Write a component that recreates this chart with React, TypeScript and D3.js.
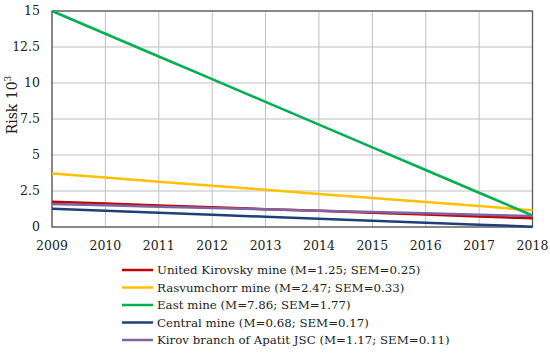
import React from "react";
import * as d3 from "d3";

const years = [2009, 2010, 2011, 2012, 2013, 2014, 2015, 2016, 2017, 2018];
const yTicks = [0, 2.5, 5, 7.5, 10, 12.5, 15];
const yTickLabels = ["0", "2.5", "5", "7.5", "10", "12.5", "15"];

const unitedKirovsky = [1.76, 1.63, 1.5, 1.37, 1.24, 1.12, 0.99, 0.86, 0.73, 0.6];
const rasvumchorr = [3.72, 3.44, 3.15, 2.87, 2.58, 2.3, 2.02, 1.73, 1.45, 1.16];
const eastMine = [15, 13.42, 11.84, 10.27, 8.69, 7.11, 5.53, 3.96, 2.38, 0.8];
const centralMine = [1.27, 1.13, 0.99, 0.85, 0.71, 0.58, 0.44, 0.3, 0.16, 0.02];
const kirovBranch = [1.6, 1.51, 1.41, 1.32, 1.23, 1.13, 1.04, 0.95, 0.85, 0.76];

const seriesNames = [
  "United Kirovsky mine (M=1.25; SEM=0.25)",
  "Rasvumchorr mine (M=2.47; SEM=0.33)",
  "East mine (M=7.86; SEM=1.77)",
  "Central mine (M=0.68; SEM=0.17)",
  "Kirov branch of Apatit JSC (M=1.17; SEM=0.11)",
];
const seriesColors = ["#c00000", "#ffc000", "#00b050", "#1f3f77", "#8064a2"];

const series = [unitedKirovsky, rasvumchorr, eastMine, centralMine, kirovBranch];
const drawOrder = [1, 2, 0, 4, 3];

const W = 550;
const H = 356;
const M = { left: 52, right: 17.5, top: 11, bottom: 129 };

export default function App() {
  const x = d3.scaleLinear().domain([2009, 2018]).range([M.left, W - M.right]);
  const y = d3.scaleLinear().domain([0, 15]).range([H - M.bottom, M.top]);
  const line = d3
    .line<number>()
    .x((_, i) => x(years[i]))
    .y((d) => y(d));
  const font = "DejaVu Serif";
  return (
    <svg
      width={W}
      height={H}
      style={{ position: "absolute", left: 0, top: 0, background: "#fff", fontFamily: font }}
    >
      <rect x={0} y={0} width={W} height={H} fill="#fff" />
      {years.map((yr) => (
        <line key={"vx" + yr} x1={x(yr)} x2={x(yr)} y1={y(0)} y2={y(15)} stroke="#bfbfbf" strokeWidth={1} />
      ))}
      {yTicks.map((t) => (
        <line key={"hy" + t} x1={x(2009)} x2={x(2018)} y1={y(t)} y2={y(t)} stroke="#bfbfbf" strokeWidth={1} />
      ))}
      <rect
        x={x(2009)}
        y={y(15)}
        width={x(2018) - x(2009)}
        height={y(0) - y(15)}
        fill="none"
        stroke="#595959"
        strokeWidth={1.3}
      />
      {drawOrder.map((i) => (
        <path key={"s" + i} d={line(series[i]) || ""} fill="none" stroke={seriesColors[i]} strokeWidth={2.5} />
      ))}
      {yTicks.map((t, i) => (
        <text key={"yl" + t} x={40} y={y(t)} dy="0.35em" textAnchor="end" fontSize={12.5} fill="#222">
          {yTickLabels[i]}
        </text>
      ))}
      {years.map((yr) => (
        <text key={"xl" + yr} x={x(yr)} y={250} textAnchor="middle" fontSize={12.5} fill="#222">
          {yr}
        </text>
      ))}
      <text transform={`translate(17,${105}) rotate(-90)`} textAnchor="middle" fontSize={14} fill="#222">
        Risk 10
        <tspan dy={-6} fontSize={9}>3</tspan>
      </text>
      {seriesNames.map((name, i) => {
        const ly = 270 + i * 17.5;
        return (
          <g key={"lg" + i}>
            <line x1={122} x2={153} y1={ly} y2={ly} stroke={seriesColors[i]} strokeWidth={2.5} />
            <text x={157} y={ly} dy="0.35em" fontSize={11.8} fill="#222">
              {name}
            </text>
          </g>
        );
      })}
    </svg>
  );
}
